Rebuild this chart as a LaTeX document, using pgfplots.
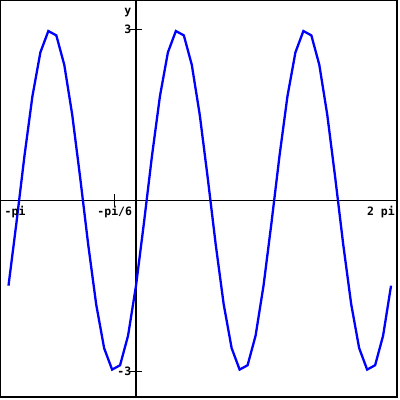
\documentclass[border=0pt]{standalone}
\usepackage{pgfplots}
\pgfplotsset{compat=1.18}
\usepackage{fontspec}
\setmainfont{DejaVu Sans Mono}[BoldFont={DejaVu Sans Mono Bold}]
\tikzset{lbl/.style={inner sep=0pt, font=\fontsize{11.5}{13}\selectfont\bfseries}}
\begin{document}
\begin{tikzpicture}
\begin{axis}[
  scale only axis,
  width=397pt, height=397pt,
  xmin=-3.336, xmax=6.43,
  ymin=-3.456, ymax=3.509,
  xtick=\empty, ytick=\empty,
  axis line style={line width=1.2pt, black},
  clip=false,
]
\draw[line width=1.1pt] (axis cs:-3.336,0) -- (axis cs:6.43,0);
\draw[line width=1.1pt] (axis cs:0,-3.456) -- (axis cs:0,3.509);
\draw[line width=1.1pt] ([yshift=6pt]axis cs:-0.5236,0) -- ([yshift=-6pt]axis cs:-0.5236,0);
\draw[line width=1.1pt] ([xshift=-6pt]axis cs:0,3) -- ([xshift=6pt]axis cs:0,3);
\draw[line width=1.1pt] ([xshift=-6pt]axis cs:0,-3) -- ([xshift=6pt]axis cs:0,-3);
\addplot[color={rgb,255:red,0;green,0;blue,255}, line width=2.3pt, mark=none] coordinates {
(-3.1416,-1.5) (-2.9452,-0.392) (-2.7489,0.776) (-2.5525,1.826) (-2.3562,2.598)
(-2.1598,2.974) (-1.9635,2.898) (-1.7671,2.380) (-1.5708,1.5) (-1.3744,0.392)
(-1.1781,-0.776) (-0.9817,-1.826) (-0.7854,-2.598) (-0.5890,-2.974) (-0.3927,-2.898)
(-0.1963,-2.380) (0,-1.5) (0.1963,-0.392) (0.3927,0.776) (0.5890,1.826)
(0.7854,2.598) (0.9817,2.974) (1.1781,2.898) (1.3744,2.380) (1.5708,1.5)
(1.7671,0.392) (1.9635,-0.776) (2.1598,-1.826) (2.3562,-2.598) (2.5525,-2.974)
(2.7489,-2.898) (2.9452,-2.380) (3.1416,-1.5) (3.3379,-0.392) (3.5343,0.776)
(3.7306,1.826) (3.9270,2.598) (4.1233,2.974) (4.3197,2.898) (4.5160,2.380)
(4.7124,1.5) (4.9087,0.392) (5.1051,-0.776) (5.3014,-1.826) (5.4978,-2.598)
(5.6941,-2.974) (5.8905,-2.898) (6.0868,-2.380) (6.2832,-1.5)
};
\node[lbl, anchor=base west] at (axis cs:-3.24,-0.263) {-pi};
\node[lbl, anchor=base] at (axis cs:-0.5236,-0.263) {-pi/6};
\node[lbl, anchor=base east] at (axis cs:6.381,-0.263) {2 pi};
\node[lbl, anchor=east] at (axis cs:-0.113,3) {3};
\node[lbl, anchor=east] at (axis cs:-0.113,-3) {-3};
\node[lbl, anchor=base east] at (axis cs:-0.113,3.263) {y};
\end{axis}
\path ([xshift=400pt,yshift=-400pt]current axis.north west);
\end{tikzpicture}
\end{document}
